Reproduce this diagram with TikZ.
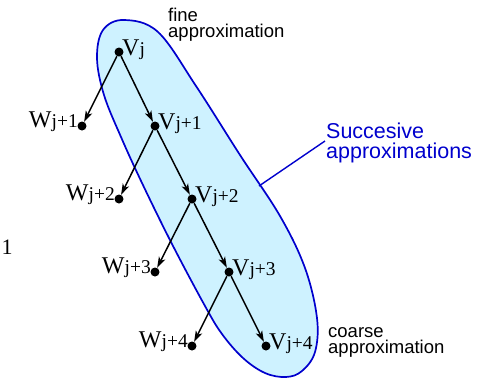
\documentclass[tikz,border=0pt]{standalone}
\usepackage{fontspec}
\setmainfont{Liberation Serif}
\setsansfont{Liberation Sans}
\usetikzlibrary{arrows.meta}
\definecolor{ellfill}{RGB}{206,242,255}
\definecolor{ellblue}{RGB}{0,0,205}
\newcommand\mylbl[2]{{\fontsize{24}{24}\selectfont #1}{\fontsize{19.5}{19.5}\selectfont\raisebox{-0.8pt}{#2}}}
\tikzset{
  dot/.style={circle,fill=black,inner sep=0pt,minimum size=9pt},
  arr/.style={line width=1.5pt,-{Stealth[length=11pt,width=7pt,inset=3pt]}},
  vlab/.style={inner sep=0pt,anchor=base west},
  wlab/.style={inner sep=0pt,anchor=base east},
  note/.style={inner sep=0pt,anchor=north west,align=left,font=\sffamily\fontsize{18.5}{16.8}\selectfont},
}
\begin{document}
\begin{tikzpicture}[x=1pt,y=-1pt]
\useasboundingbox (0,0) rectangle (499,378);
% enclosing region
\draw[ellblue,line width=1.7pt,fill=ellfill] plot[smooth cycle,tension=0.6] coordinates{
 (124,20) (158,32) (196,86) (240,155) (280,216) (305,268)
 (317,318) (315,352) (302,371) (286,377) (265,373) (243,358) (222,334)
 (205,306) (172,244) (142,183) (121,137) (104,95) (97,58) (103,30)};
% dots
\node[dot] (v0) at (119,52) {};
\node[dot] (w1) at (82,126) {};
\node[dot] (v1) at (155,126) {};
\node[dot] (w2) at (119,199) {};
\node[dot] (v2) at (192,199) {};
\node[dot] (w3) at (155,272) {};
\node[dot] (v3) at (229,272) {};
\node[dot] (w4) at (192,346) {};
\node[dot] (v4) at (266,346) {};
% arrows
\draw[arr] (v0) -- (w1);
\draw[arr] (v0) -- (v1);
\draw[arr] (v1) -- (w2);
\draw[arr] (v1) -- (v2);
\draw[arr] (v2) -- (w3);
\draw[arr] (v2) -- (v3);
\draw[arr] (v3) -- (w4);
\draw[arr] (v3) -- (v4);
% labels
\node[vlab] (lv0) at (122,55) {\mylbl{V}{j}};
\node[vlab] (lv1) at (158,129) {\mylbl{V}{j+1}};
\node[vlab] (lv2) at (195,202) {\mylbl{V}{j+2}};
\node[vlab] (lv3) at (232,275) {\mylbl{V}{j+3}};
\node[vlab] (lv4) at (269,349) {\mylbl{V}{j+4}};
\node[wlab] (lw1) at (78,127) {\mylbl{W}{j+1}};
\node[wlab] (lw2) at (115,200) {\mylbl{W}{j+2}};
\node[wlab] (lw3) at (151,273) {\mylbl{W}{j+3}};
\node[wlab] (lw4) at (188,347) {\mylbl{W}{j+4}};
% stray digit
\node[inner sep=0pt,anchor=base west,font=\fontsize{22}{22}\selectfont] (one) at (1.5,254) {1};
% annotations
\node[note] (fine) at (168,7.5) {fine\\approximation};
\node[note] (coarse) at (328,327) {coarse\\approximation};
\node[note,text=ellblue,font=\sffamily\fontsize{21.5}{20}\selectfont] (succ) at (326,122.5) {Succesive\\approximations};
\coordinate (c1) at (259,186);
\coordinate (c2) at (325,141);
\draw[ellblue,line width=1.4pt] (c1) -- (c2);
\end{tikzpicture}
\end{document}
